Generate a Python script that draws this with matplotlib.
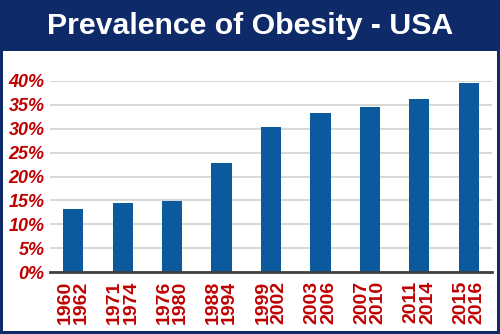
import matplotlib
matplotlib.use("Agg")
import matplotlib.pyplot as plt
from matplotlib.patches import Rectangle

periods = ["1960\n1962", "1971\n1974", "1976\n1980", "1988\n1994", "1999\n2002",
           "2003\n2006", "2007\n2010", "2011\n2014", "2015\n2016"]
values = [13.3, 14.4, 14.9, 22.8, 30.4, 33.2, 34.6, 36.2, 39.6]
yticks = [0, 5, 10, 15, 20, 25, 30, 35, 40]
ytick_labels = [f"{v}%" for v in yticks]
title = "Prevalence of Obesity - USA"

NAVY = "#0f2a68"
RED = "#c00000"
BAR = "#0b5a9e"

W, H = 500, 334
fig = plt.figure(figsize=(5, 3.34), dpi=100, facecolor=NAVY)
# white panel
fig.patches.append(Rectangle((3 / W, 3 / H), 494 / W, (331 - 51) / H,
                             transform=fig.transFigure, facecolor="white",
                             edgecolor="none", zorder=-5))
fig.text(0.5, (H - 25.5) / H, title, color="white", fontsize=21.8, fontweight="bold",
         family="Liberation Sans", ha="center", va="center")

ax = fig.add_axes([50 / W, 61.7 / H, 442 / W, 191.6 / H])
ax.set_zorder(2)
ax.set_facecolor("none")
x = list(range(len(values)))
ax.bar(x, values, width=0.41, color=BAR, zorder=3)
ax.set_xlim(-0.47, len(values) - 0.53)
ax.set_ylim(0, 40)
ax.set_yticks(yticks)
ax.set_yticklabels(ytick_labels)
ax.set_xticks(x)
ax.set_xticklabels(periods, rotation=90, linespacing=0.95)
for sp in ["top", "right", "left"]:
    ax.spines[sp].set_visible(False)
ax.spines["bottom"].set_color("#404040")
ax.spines["bottom"].set_linewidth(2)
ax.spines["bottom"].set_zorder(4)
ax.grid(axis="y", color="#d4d4d4", linewidth=1.3, zorder=0)
ax.set_axisbelow(True)
ax.tick_params(axis="both", length=0)
ax.tick_params(axis="y", pad=4)
ax.tick_params(axis="x", pad=6)
for lab in ax.get_yticklabels():
    lab.set_color(RED)
    lab.set_fontsize(13)
    lab.set_fontweight("bold")
    lab.set_fontstyle("italic")
    lab.set_family("Liberation Sans")
for lab in ax.get_xticklabels():
    lab.set_color(RED)
    lab.set_fontsize(14)
    lab.set_fontweight("bold")
    lab.set_family("Liberation Sans")

fig.savefig("out.png", dpi=100, facecolor=NAVY)
